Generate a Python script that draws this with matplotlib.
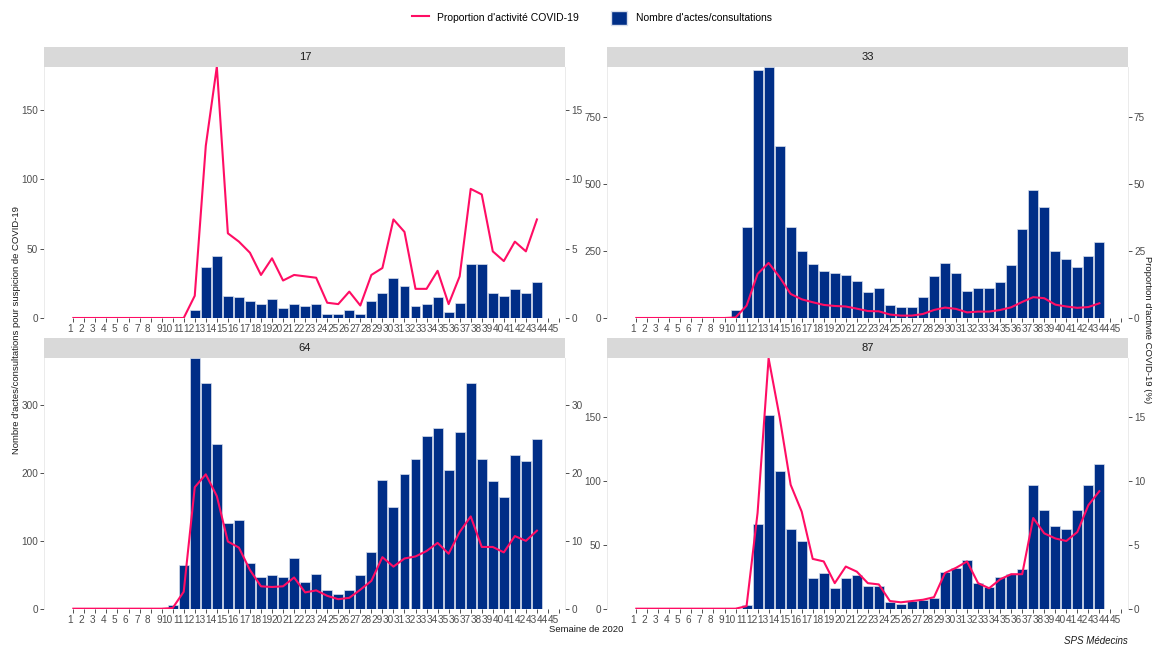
import matplotlib.pyplot as plt
from matplotlib.ticker import MultipleLocator
from matplotlib.lines import Line2D
from matplotlib.patches import Patch

plt.rcParams['font.family'] = ['Liberation Sans', 'DejaVu Sans']

# semaines 1 a 43 de 2020
weeks = list(range(1, 44))
week_ticks = list(range(1, 46))
departements = ['17', '33', '64', '87']

actes_17 = [0, 0, 0, 0, 0, 0, 0, 0, 0, 0, 0,
            6, 37, 45, 16, 15, 12, 10, 14, 7, 10, 9, 10, 3, 3, 6, 3, 12, 18,
            29, 23, 9, 10, 15, 4, 11, 39, 39, 18, 16, 21, 18, 26]
prop_17 = [0, 0, 0, 0, 0, 0, 0, 0, 0, 0, 0,
           1.6, 12.4, 18.1, 6.1, 5.5, 4.7, 3.1, 4.3, 2.7, 3.1, 3.0, 2.9, 1.1,
           1.0, 1.9, 0.9, 3.1, 3.6, 7.1, 6.2, 2.1, 2.1, 3.4, 1.0, 3.0, 9.3,
           8.9, 4.8, 4.1, 5.5, 4.8, 7.1]

actes_33 = [0, 0, 0, 0, 0, 0, 0, 0, 0,
            30, 340, 927, 940, 642, 342, 250, 202, 174, 170, 162, 140, 99, 114,
            49, 40, 40, 77, 157, 205, 167, 101, 111, 114, 136, 200, 332, 479,
            415, 250, 222, 192, 232, 284]
prop_33 = [0, 0, 0, 0, 0, 0, 0, 0, 0,
           0.2, 4.6, 16.5, 20.6, 15.3, 9.0, 7.0, 5.9, 4.9, 4.5, 4.3, 3.5, 2.6,
           2.5, 1.3, 0.9, 0.9, 1.5, 3.0, 3.9, 3.4, 2.1, 2.4, 2.4, 3.0, 4.0,
           6.0, 7.8, 7.4, 5.0, 4.3, 3.8, 4.1, 5.5]

actes_64 = [0, 0, 0, 0, 0, 0, 0, 0, 0,
            5, 64, 369, 333, 243, 127, 130, 67, 46, 50, 46, 74, 39, 51, 28, 21,
            27, 49, 84, 190, 150, 199, 220, 255, 267, 205, 261, 332, 220, 188,
            164, 227, 217, 250]
prop_64 = [0, 0, 0, 0, 0, 0, 0, 0, 0,
           0.1, 2.5, 17.9, 19.8, 16.6, 9.9, 9.0, 5.7, 3.3, 3.2, 3.3, 4.6, 2.4,
           2.7, 1.9, 1.4, 1.6, 2.8, 4.1, 7.6, 6.2, 7.4, 7.7, 8.5, 9.7, 8.1,
           11.3, 13.6, 9.1, 9.1, 8.3, 10.7, 10.0, 11.5]

actes_87 = [0, 0, 0, 0, 0, 0, 0, 0, 0, 0,
            3, 66, 152, 108, 62, 53, 24, 28, 16, 24, 26, 18, 18, 5, 4, 6, 7, 8,
            29, 32, 38, 20, 17, 25, 27, 31, 97, 77, 65, 62, 77, 97, 113]
prop_87 = [0, 0, 0, 0, 0, 0, 0, 0, 0, 0,
           0.2, 7.5, 19.6, 15.0, 9.7, 7.6, 3.9, 3.7, 2.0, 3.3, 2.9, 2.0, 1.9,
           0.6, 0.5, 0.6, 0.7, 0.9, 2.8, 3.2, 3.7, 2.0, 1.6, 2.3, 2.7, 2.7,
           7.1, 5.9, 5.5, 5.3, 6.0, 8.1, 9.2]

actes = [actes_17, actes_33, actes_64, actes_87]
props = [prop_17, prop_33, prop_64, prop_87]
coef = 10
left_steps = [50, 250, 100, 50]
right_steps = [5, 25, 10, 5]

bar_col = '#002E87'
line_col = '#FF0D64'
txt_col = '#4D4D4D'

fig = plt.figure(figsize=(11.52, 6.48), dpi=100)
W, H = 1152, 648
# (left, top, right, bottom) in pixels
boxes = [(44.3, 66.7, 565.3, 318.0), (607.3, 66.7, 1127.7, 318.0),
         (44.3, 358.3, 565.3, 608.7), (607.3, 358.3, 1127.7, 608.7)]
strip_h = 20

for i, dep in enumerate(departements):
    l, t, r, b = boxes[i]
    ax = fig.add_axes([l / W, 1 - b / H, (r - l) / W, (b - t) / H])
    sax = fig.add_axes([l / W, 1 - t / H, (r - l) / W, strip_h / H])
    sax.set_facecolor('#D9D9D9')
    sax.set_xticks([])
    sax.set_yticks([])
    for s in sax.spines.values():
        s.set_visible(False)
    sax.text(0.5, 0.5, dep, ha='center', va='center', fontsize=8, color='#1A1A1A',
             transform=sax.transAxes)

    top = max(max(actes[i]), coef * max(props[i]))
    ax.bar(weeks, actes[i], width=0.9, color=bar_col, edgecolor='#D8DEEC', linewidth=0.5)
    ax.set_ylim(0, top)
    ax.set_xlim(-1.63, 45.57)
    ax.set_xticks(week_ticks)
    ax.set_xticklabels([str(w) for w in week_ticks], ha='right')
    ax.yaxis.set_major_locator(MultipleLocator(left_steps[i]))

    ax2 = ax.twinx()
    ax2.plot(weeks, props[i], color=line_col, linewidth=1.5, zorder=5)
    ax2.set_ylim(0, top / coef)
    ax2.yaxis.set_major_locator(MultipleLocator(right_steps[i]))

    for a in (ax, ax2):
        a.tick_params(length=3, width=0.6, color='#333333', labelsize=7.2,
                      labelcolor=txt_col, pad=1.5)
        for s in a.spines.values():
            s.set_color('#EBEBEB')
            s.set_linewidth(0.6)
        a.spines['bottom'].set_visible(False)
        a.spines['top'].set_visible(False)
    ax.set_facecolor('white')

fig.text(17 / W, 1 - 330 / H, "Nombre d'actes/consultations pour suspicion de COVID-19",
         rotation=90, ha='center', va='center', fontsize=6.8, color='#1A1A1A')
fig.text(1147.5 / W, 1 - 330 / H, "Proportion d'activité COVID-19 (%)",
         rotation=270, ha='center', va='center', fontsize=6.8, color='#1A1A1A')
fig.text(586 / W, 1 - 630 / H, 'Semaine de 2020', ha='center', va='center',
         fontsize=6.8, color='#1A1A1A')
fig.text(1128 / W, 1 - 641 / H, 'SPS Médecins', ha='right', va='center',
         fontsize=7, style='italic', color='#1A1A1A')

handles = [Line2D([0], [0], color=line_col, linewidth=1.5),
           Patch(facecolor=bar_col, edgecolor='#D8DEEC')]
fig.legend(handles, ["Proportion d'activité COVID-19", "Nombre d'actes/consultations"],
           loc='center', bbox_to_anchor=(592 / W, 1 - 18 / H), ncol=2, frameon=False,
           fontsize=7.5, handlelength=1.6, columnspacing=3.0, handleheight=1.6)

fig.savefig('out.png', dpi=100)
